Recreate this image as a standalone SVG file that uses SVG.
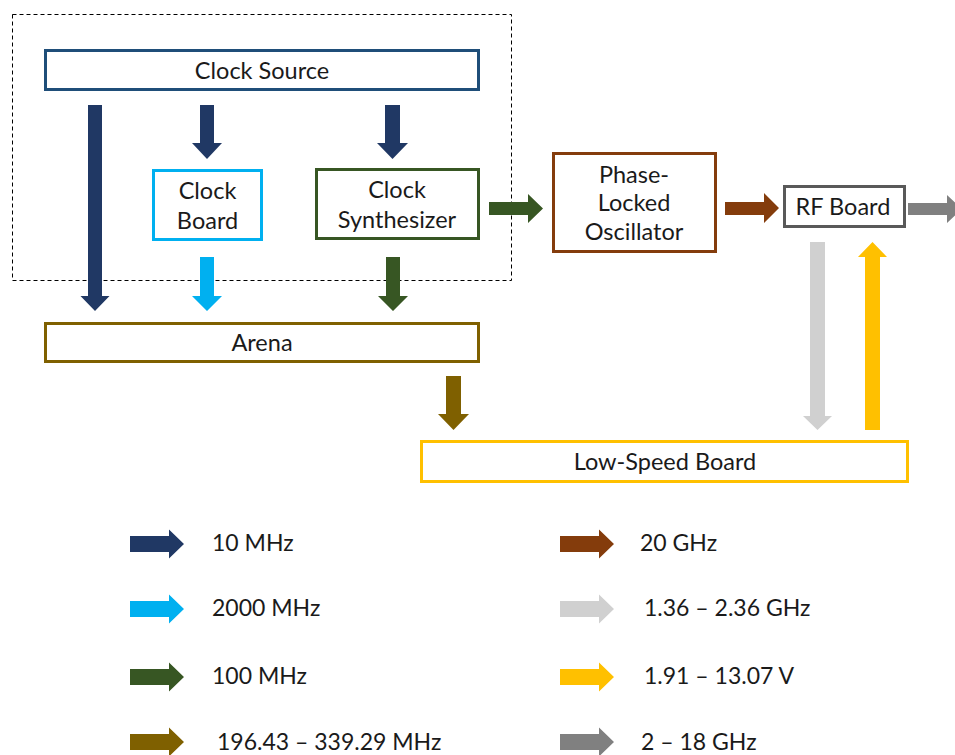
<svg xmlns="http://www.w3.org/2000/svg" width="955" height="755" viewBox="0 0 955 755">
<style>
text{font-family:Lato,"Open Sans","Liberation Sans",sans-serif;font-size:23.5px;fill:#1a1a1a;text-anchor:middle}
.lg text{text-anchor:start;font-size:23px}
.box{fill:#fff;stroke-width:3}
.navy{fill:#203864}.sky{fill:#00B0F0}.green{fill:#375623}.olive{fill:#7F6000}
.brown{fill:#843C0C}.lgray{fill:#D0D0D0}.yellow{fill:#FFC000}.gray{fill:#808080}
</style>
<rect x="12.5" y="14.5" width="499" height="266" fill="none" stroke="#000" stroke-width="1" stroke-dasharray="4 3"/>
<g id="connectors">
<path class="navy" d="M88 105H102V296H109.5L95 311L80.5 296H88Z"/>
<path class="navy" d="M200 105H214V143H222L207 159L192 143H200Z"/>
<path class="navy" d="M385 105H400V143H408L392.5 159L377 143H385Z"/>
<path class="sky" d="M200 257H214V296H222L207 311L192 296H200Z"/>
<path class="green" d="M386 257H400V296H408L393 311L378 296H386Z"/>
<path class="green" d="M489 202H528V194L543 208.5L528 223V215H489Z"/>
<path class="brown" d="M725 202H764V193L779 208L764 223V215H725Z"/>
<path class="gray" d="M908 203H947V195L962 209L947 223V215H908Z"/>
<path class="lgray" d="M810 242H825V416H832L817.5 430L803 416H810Z"/>
<path class="yellow" d="M865 430H880V257H887L872.5 242L858 257H865Z"/>
<path class="olive" d="M446 376H461V414H469L453.5 430L438 414H446Z"/>
</g>
<g id="clock-source"><rect class="box" x="45.5" y="50.5" width="433" height="39" stroke="#1F4E79"/><text x="262" y="79">Clock Source</text></g>
<g id="clock-board"><rect class="box" x="153.5" y="170.5" width="108" height="69" stroke="#00B0F0"/><text x="207.5" y="199">Clock</text><text x="207.5" y="229">Board</text></g>
<g id="clock-synthesizer"><rect class="box" x="316.5" y="169.5" width="162" height="69" stroke="#375623"/><text x="397" y="198">Clock</text><text x="397" y="228">Synthesizer</text></g>
<g id="arena"><rect class="box" x="45.5" y="323.5" width="433" height="38" stroke="#7F6000"/><text x="262" y="351">Arena</text></g>
<g id="plo"><rect class="box" x="553.5" y="153.5" width="162" height="98" stroke="#843C0C"/><text x="634" y="183">Phase-</text><text x="634" y="211">Locked</text><text x="634" y="240">Oscillator</text></g>
<g id="rf-board"><rect class="box" x="784.5" y="186.5" width="120" height="40" stroke="#595959"/><text x="843" y="215">RF Board</text></g>
<g id="low-speed-board"><rect class="box" x="421.5" y="441.5" width="486" height="40" stroke="#FFC000"/><text x="665" y="470">Low-Speed Board</text></g>
<g id="legend" class="lg">
<path class="navy" d="M130 536H169V529.5L184 544L169 558.5V552H130Z"/><text x="212" y="551">10 MHz</text>
<path class="sky" d="M130 601H169V594.5L184 609L169 623.5V617H130Z"/><text x="212" y="616">2000 MHz</text>
<path class="green" d="M130 669H169V662.5L184 677L169 691.5V685H130Z"/><text x="212" y="684">100 MHz</text>
<path class="olive" d="M130 734H169V727.5L184 742L169 756.5V750H130Z"/><text x="217" y="750">196.43 – 339.29 MHz</text>
<path class="brown" d="M560 536H599V529.5L614 544L599 558.5V552H560Z"/><text x="640" y="551">20 GHz</text>
<path class="lgray" d="M560 601H599V594.5L614 609L599 623.5V617H560Z"/><text x="644" y="616">1.36 – 2.36 GHz</text>
<path class="yellow" d="M560 669H599V662.5L614 677L599 691.5V685H560Z"/><text x="644" y="684">1.91 – 13.07 V</text>
<path class="gray" d="M560 734H599V727.5L614 742L599 756.5V750H560Z"/><text x="641" y="750">2 – 18 GHz</text>
</g>
</svg>
